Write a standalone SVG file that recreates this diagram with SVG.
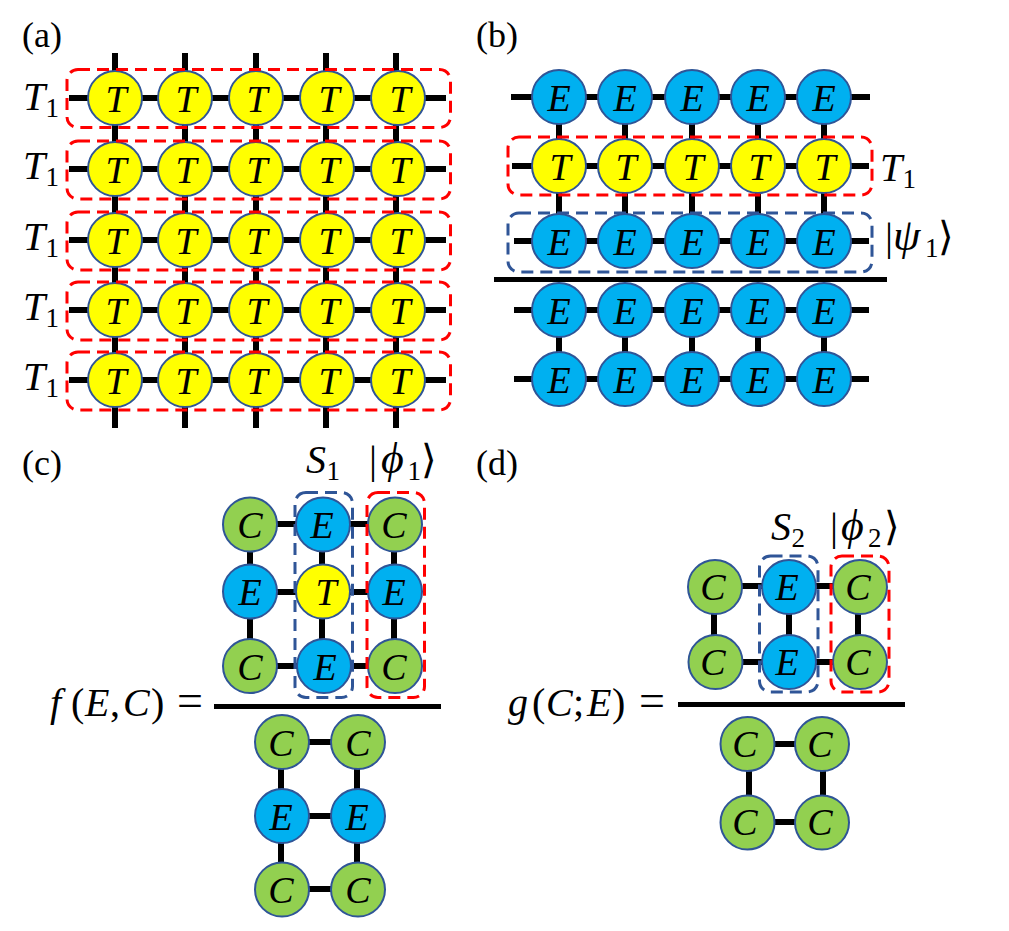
<svg xmlns="http://www.w3.org/2000/svg" width="1009" height="931" viewBox="0 0 1009 931">
<style>
.n{stroke:#2f5597;stroke-width:2}
.T{fill:#ffff00}.E{fill:#00b0f0}.C{fill:#92d050}
.m{font-family:"Liberation Serif",serif;font-style:italic;font-size:38px;text-anchor:middle;fill:#000}
.l{font-family:"Liberation Serif",serif;font-size:36px;fill:#000}
.q{font-family:"Liberation Serif",serif;font-style:italic;font-size:40px;fill:#000}
.s{font-style:normal;font-size:27px}
.u{font-style:normal}
.g{font-size:44px}
.e{font-size:46px}
.w{stroke:#000;stroke-width:6;fill:none}
.r{fill:none;stroke:#ff0000;stroke-width:3;stroke-dasharray:12 7}
.b{fill:none;stroke:#2f5597;stroke-width:3;stroke-dasharray:12 7}
</style>
<rect width="1009" height="931" fill="#fff"/>
<g id="connectors" class="w">
<path d="M115 53V428M185 53V428M256 53V428M326 53V428M396 53V428"/>
<path d="M69 98H446M69 169H446M69 240H446M69 310H446M69 380H446"/>
<path d="M559 97V241M625 97V241M692 97V241M758 97V241M824 97V241M559 310V379M625 310V379M692 310V379M758 310V379M824 310V379"/>
<path d="M511 97H870M512 166H869M514 241H869M514 310H869M514 379H869"/>
<path d="M250 524V666M322 524V666M394 524V666M250 524H395M250 592H395M250 666H395"/>
<path d="M281 742V889M357 742V889M282 742H358M282 816H358M282 889H358"/>
<path d="M714 587V662M789 587V662M858 587V662M715 586H860M715 662H860"/>
<path d="M749 744V822M823 744V822M748 744H822M748 822H822"/>
<path d="M494 279.500H887" stroke-width="5"/>
<path d="M214 706.500H441" stroke-width="5"/>
<path d="M678 704.500H905" stroke-width="5"/>
</g>
<g id="a-row1"><circle class="n T" cx="115" cy="98" r="27"/><text class="m" x="116" y="112">T</text><circle class="n T" cx="185" cy="98" r="27"/><text class="m" x="186" y="112">T</text><circle class="n T" cx="256" cy="98" r="27"/><text class="m" x="257" y="112">T</text><circle class="n T" cx="327" cy="98" r="27"/><text class="m" x="329" y="112">T</text><circle class="n T" cx="398" cy="98" r="27"/><text class="m" x="400" y="112">T</text></g>
<g id="a-row2"><circle class="n T" cx="115" cy="169" r="27"/><text class="m" x="116" y="183">T</text><circle class="n T" cx="185" cy="169" r="27"/><text class="m" x="186" y="183">T</text><circle class="n T" cx="256" cy="169" r="27"/><text class="m" x="257" y="183">T</text><circle class="n T" cx="327" cy="169" r="27"/><text class="m" x="329" y="183">T</text><circle class="n T" cx="398" cy="169" r="27"/><text class="m" x="400" y="183">T</text></g>
<g id="a-row3"><circle class="n T" cx="115" cy="240" r="27"/><text class="m" x="116" y="254">T</text><circle class="n T" cx="185" cy="240" r="27"/><text class="m" x="186" y="254">T</text><circle class="n T" cx="256" cy="240" r="27"/><text class="m" x="257" y="254">T</text><circle class="n T" cx="327" cy="240" r="27"/><text class="m" x="329" y="254">T</text><circle class="n T" cx="398" cy="240" r="27"/><text class="m" x="400" y="254">T</text></g>
<g id="a-row4"><circle class="n T" cx="115" cy="310" r="27"/><text class="m" x="116" y="324">T</text><circle class="n T" cx="185" cy="310" r="27"/><text class="m" x="186" y="324">T</text><circle class="n T" cx="256" cy="310" r="27"/><text class="m" x="257" y="324">T</text><circle class="n T" cx="327" cy="310" r="27"/><text class="m" x="329" y="324">T</text><circle class="n T" cx="398" cy="310" r="27"/><text class="m" x="400" y="324">T</text></g>
<g id="a-row5"><circle class="n T" cx="115" cy="380" r="27"/><text class="m" x="116" y="394">T</text><circle class="n T" cx="185" cy="380" r="27"/><text class="m" x="186" y="394">T</text><circle class="n T" cx="256" cy="380" r="27"/><text class="m" x="257" y="394">T</text><circle class="n T" cx="327" cy="380" r="27"/><text class="m" x="329" y="394">T</text><circle class="n T" cx="398" cy="380" r="27"/><text class="m" x="400" y="394">T</text></g>
<g id="b-row1"><circle class="n E" cx="559" cy="97" r="27"/><text class="m" x="559" y="111">E</text><circle class="n E" cx="625" cy="97" r="27"/><text class="m" x="625" y="111">E</text><circle class="n E" cx="692" cy="97" r="27"/><text class="m" x="692" y="111">E</text><circle class="n E" cx="758" cy="97" r="27"/><text class="m" x="758" y="111">E</text><circle class="n E" cx="824" cy="97" r="27"/><text class="m" x="824" y="111">E</text></g>
<g id="b-row2"><circle class="n T" cx="559" cy="166" r="27"/><text class="m" x="560" y="180">T</text><circle class="n T" cx="625" cy="166" r="27"/><text class="m" x="626" y="180">T</text><circle class="n T" cx="692" cy="166" r="27"/><text class="m" x="693" y="180">T</text><circle class="n T" cx="758" cy="166" r="27"/><text class="m" x="759" y="180">T</text><circle class="n T" cx="824" cy="166" r="27"/><text class="m" x="825" y="180">T</text></g>
<g id="b-row3"><circle class="n E" cx="559" cy="241" r="27"/><text class="m" x="559" y="255">E</text><circle class="n E" cx="625" cy="241" r="27"/><text class="m" x="625" y="255">E</text><circle class="n E" cx="692" cy="241" r="27"/><text class="m" x="692" y="255">E</text><circle class="n E" cx="758" cy="241" r="27"/><text class="m" x="758" y="255">E</text><circle class="n E" cx="824" cy="241" r="27"/><text class="m" x="824" y="255">E</text></g>
<g id="b-row4"><circle class="n E" cx="559" cy="310" r="27"/><text class="m" x="559" y="324">E</text><circle class="n E" cx="625" cy="310" r="27"/><text class="m" x="625" y="324">E</text><circle class="n E" cx="692" cy="310" r="27"/><text class="m" x="692" y="324">E</text><circle class="n E" cx="758" cy="310" r="27"/><text class="m" x="758" y="324">E</text><circle class="n E" cx="824" cy="310" r="27"/><text class="m" x="824" y="324">E</text></g>
<g id="b-row5"><circle class="n E" cx="559" cy="379" r="27"/><text class="m" x="559" y="393">E</text><circle class="n E" cx="625" cy="379" r="27"/><text class="m" x="625" y="393">E</text><circle class="n E" cx="692" cy="379" r="27"/><text class="m" x="692" y="393">E</text><circle class="n E" cx="758" cy="379" r="27"/><text class="m" x="758" y="393">E</text><circle class="n E" cx="824" cy="379" r="27"/><text class="m" x="824" y="393">E</text></g>
<g id="c-num"><circle class="n C" cx="250" cy="524.500" r="27"/><text class="m" x="250" y="538">C</text><circle class="n E" cx="323" cy="524.500" r="27"/><text class="m" x="322" y="538">E</text><circle class="n C" cx="395" cy="524.500" r="27"/><text class="m" x="394" y="538">C</text><circle class="n E" cx="250" cy="591.500" r="27"/><text class="m" x="250" y="605">E</text><circle class="n T" cx="323" cy="591.500" r="27"/><text class="m" x="326" y="605">T</text><circle class="n E" cx="395" cy="591.500" r="27"/><text class="m" x="394" y="605">E</text><circle class="n C" cx="250" cy="666" r="27"/><text class="m" x="250" y="680">C</text><circle class="n E" cx="324" cy="666" r="27"/><text class="m" x="325" y="680">E</text><circle class="n C" cx="395" cy="666" r="27"/><text class="m" x="394" y="680">C</text></g>
<g id="c-den"><circle class="n C" cx="282" cy="742" r="27"/><text class="m" x="281" y="756">C</text><circle class="n C" cx="358" cy="742" r="27"/><text class="m" x="358" y="756">C</text><circle class="n E" cx="282" cy="816" r="27"/><text class="m" x="281" y="830">E</text><circle class="n E" cx="358" cy="816" r="27"/><text class="m" x="357" y="830">E</text><circle class="n C" cx="282" cy="889.500" r="27"/><text class="m" x="281" y="903">C</text><circle class="n C" cx="358" cy="889.500" r="27"/><text class="m" x="358" y="903">C</text></g>
<g id="d-num"><circle class="n C" cx="715" cy="587" r="27"/><text class="m" x="713" y="600">C</text><circle class="n E" cx="789" cy="587" r="27"/><text class="m" x="787" y="600">E</text><circle class="n C" cx="860" cy="587" r="27"/><text class="m" x="858" y="600">C</text><circle class="n C" cx="715.500" cy="662" r="27"/><text class="m" x="713" y="675">C</text><circle class="n E" cx="789" cy="662" r="27"/><text class="m" x="787" y="675">E</text><circle class="n C" cx="860" cy="662" r="27"/><text class="m" x="858" y="675">C</text></g>
<g id="d-den"><circle class="n C" cx="747.500" cy="744" r="27"/><text class="m" x="745" y="757">C</text><circle class="n C" cx="822" cy="744" r="27"/><text class="m" x="820" y="757">C</text><circle class="n C" cx="747.500" cy="822.500" r="27"/><text class="m" x="745" y="835">C</text><circle class="n C" cx="822" cy="822.500" r="27"/><text class="m" x="820" y="835">C</text></g>
<g id="groups">
<rect class="r" x="67" y="69.500" width="383.500" height="58" rx="11"/>
<rect class="r" x="67" y="141" width="383.500" height="58" rx="11"/>
<rect class="r" x="67" y="212" width="383.500" height="58" rx="11"/>
<rect class="r" x="67" y="282" width="383.500" height="58" rx="11"/>
<rect class="r" x="67" y="352" width="383.500" height="58" rx="11"/>
<rect class="r" x="508" y="137" width="364" height="58" rx="11"/>
<rect class="b" x="508" y="213" width="364" height="59" rx="11"/>
<rect class="b" x="295" y="492.500" width="57.500" height="205" rx="11"/>
<rect class="r" x="367" y="492.500" width="57.500" height="205" rx="11"/>
<rect class="b" x="759.500" y="556" width="58.500" height="136" rx="11"/>
<rect class="r" x="831" y="556" width="58" height="136" rx="11"/>
</g>
<g id="labels">
<text class="l" x="22" y="47">(a)</text><text class="l" x="476" y="47">(b)</text><text class="l" x="22" y="475">(c)</text><text class="l" x="476" y="475">(d)</text>
<text class="q" x="23" y="110">T<tspan class="s" x="45.500" dy="7">1</tspan></text>
<text class="q" x="23" y="179">T<tspan class="s" x="45.500" dy="7">1</tspan></text>
<text class="q" x="23" y="250">T<tspan class="s" x="45.500" dy="7">1</tspan></text>
<text class="q" x="23" y="320">T<tspan class="s" x="45.500" dy="7">1</tspan></text>
<text class="q" x="23" y="390">T<tspan class="s" x="45.500" dy="7">1</tspan></text>
<text class="q" x="880" y="181">T<tspan class="s" x="902.500" dy="7">1</tspan></text>
<text class="q" x="885" y="250"><tspan class="u">|</tspan><tspan class="g" x="893">ψ</tspan><tspan class="s" x="925" dy="7">1</tspan><tspan class="u" x="938" dy="-7">⟩</tspan></text>
<text class="q" x="306" y="473">S<tspan class="s" x="326.500" dy="7">1</tspan></text>
<text class="q" x="369" y="473"><tspan class="u">|</tspan><tspan class="g" x="381">ϕ</tspan><tspan class="s" x="407.500" dy="7">1</tspan><tspan class="u" x="421" dy="-7">⟩</tspan></text>
<text class="q" x="771" y="540">S<tspan class="s" x="791.500" dy="7">2</tspan></text>
<text class="q" x="830" y="540"><tspan class="u">|</tspan><tspan class="g" x="841">ϕ</tspan><tspan class="s" x="868" dy="7">2</tspan><tspan class="u" x="884" dy="-7">⟩</tspan></text>
<text class="q" x="50" y="716">f<tspan class="u" x="71">(</tspan><tspan x="85">E</tspan><tspan class="u" x="110">,</tspan><tspan x="123">C</tspan><tspan class="u" x="151">)</tspan><tspan class="u e" x="177">=</tspan></text>
<text class="q" x="508" y="716">g<tspan class="u" x="532">(</tspan><tspan x="546">C</tspan><tspan class="u" x="573">;</tspan><tspan x="587">E</tspan><tspan class="u" x="612">)</tspan><tspan class="u e" x="639">=</tspan></text>
</g>
</svg>
